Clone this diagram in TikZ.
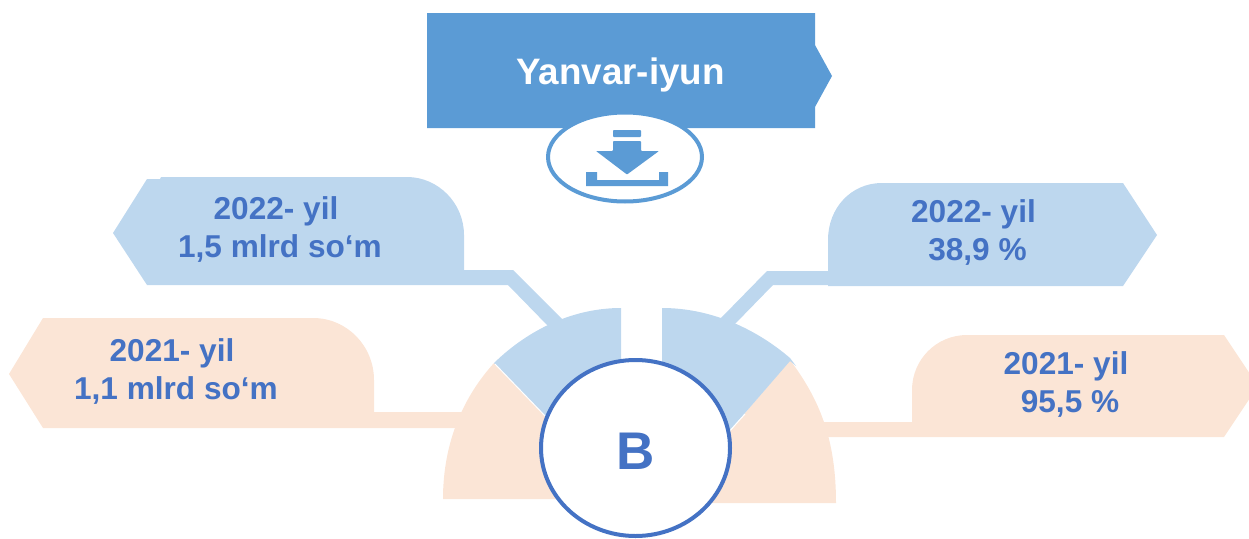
\documentclass[tikz,border=0pt]{standalone}
\usepackage{fontspec}
\usetikzlibrary{shapes.geometric}
\setmainfont{Liberation Sans}
\definecolor{hdr}{HTML}{5B9BD5}
\definecolor{ltblue}{HTML}{BDD7EE}
\definecolor{peach}{HTML}{FBE5D6}
\definecolor{txt}{HTML}{4472C4}
\tikzset{
  lab/.style={anchor=base,align=center,inner sep=0pt,text=txt,font=\fontsize{31.6}{38}\selectfont\bfseries},
  bluefill/.style={fill=ltblue,draw=none},
  peachfill/.style={fill=peach,draw=none},
  iconfill/.style={fill=hdr,draw=none}
}
\begin{document}
\begin{tikzpicture}[x=1pt,y=-1pt]
\useasboundingbox (0,0) rectangle (1249,538);
\clip (0,0) rectangle (1249,538);
% header
\fill[hdr] (427,13) -- (815,13) -- (815,45) -- (832,76) -- (815,107) -- (815,128) -- (427,128) -- cycle;
\node[anchor=base,inner sep=0pt,text=white,font=\fontsize{36.8}{40}\selectfont\bfseries] (title) at (620.5,84) {Yanvar-iyun};
% download icon
\node[ellipse,draw=hdr,fill=white,line width=4pt,minimum width=154pt,minimum height=89pt,inner sep=0pt] (dl) at (625,157) {};
\fill[iconfill,rounded corners=0.8pt] (613,130) rectangle (641,137);
\fill[iconfill,rounded corners=0.8pt] (613,141) -- (641,141) -- (641,151) -- (659,151) -- (627,174.5) -- (596,151) -- (613,151) -- cycle;
\fill[iconfill] (586,172) -- (597,172) -- (597,180) -- (659,180) -- (659,172) -- (668,172) -- (668,186) -- (586,186) -- cycle;
% left blue callout with connector
\path[bluefill] (113,233) -- (147,179) -- (160,179) -- (161,177) -- (407,177)
  .. controls (438,177) and (464,203) .. (464,235) -- (464,270) -- (513,270) -- (565,322)
  -- (549,327) -- (508,285) -- (147,285) -- cycle;
% right blue callout with connector
\path[bluefill] (1123,183) -- (1157,235) -- (1123,286) -- (828,286) -- (828,285) -- (773,285) -- (734,325)
  -- (720,319) -- (767,271) -- (828,271) -- (828,240)
  .. controls (828,208) and (851,183) .. (882,183) -- cycle;
% left peach callout
\path[peachfill] (9,374) -- (43,318) -- (313,318) .. controls (347,318) and (374,346) .. (374,380)
  -- (374,412) -- (470,412) -- (470,428) -- (43,428) -- cycle;
% right peach callout
\path[peachfill] (1224,335) -- (1258,386) -- (1224,437) -- (912,437) -- (815,437) -- (815,422) -- (912,422) -- (912,390)
  .. controls (912,360) and (936,335) .. (967,335) -- cycle;
% peach wedges
\path[peachfill] (443,499) .. controls (443,440) and (465,395) .. (494,363) -- (560,431) -- (640,499) -- cycle;
\path[peachfill] (836,503) .. controls (836,440) and (820,400) .. (790,360) -- (745,413) -- (700,470) -- (640,503) -- cycle;
% blue wedges
\path[bluefill] (494,363) .. controls (530,328) and (575,308) .. (621,308) -- (621,400) -- (560,431) -- cycle;
\path[bluefill] (662,308) .. controls (710,308) and (755,328) .. (790,358) -- (796,366) -- (790,361) -- (745,413) -- (725,436) -- (662,400) -- cycle;
\path[draw=white,line width=1pt] (495,364) -- (548,419);
\path[draw=white,line width=1pt] (745,414) -- (726,435);
% centre circle
\node[ellipse,draw=txt,fill=white,line width=4pt,minimum width=189pt,minimum height=176pt,inner sep=0pt] (core) at (635.5,448) {};
\node[anchor=base,inner sep=0pt,text=txt,font=\fontsize{53}{60}\selectfont\bfseries] (bl) at (635.5,469) {B};
% labels
\node[lab] (a) at (280,257) {2022- yil\hspace*{8pt}\\1,5 mlrd so‘m};
\node[lab] (b) at (176,399) {2021- yil\hspace*{8pt}\\1,1 mlrd so‘m};
\node[lab] (c) at (977.5,260) {2022- yil\hspace*{8pt}\\38,9 \%};
\node[lab] (d) at (1070,412) {2021- yil\hspace*{8pt}\\95,5 \%};
\end{tikzpicture}
\end{document}
